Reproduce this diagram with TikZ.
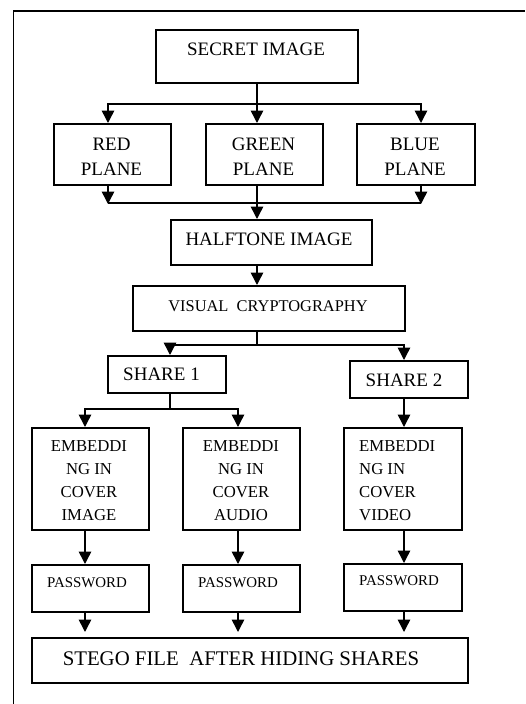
\documentclass[tikz,border=0pt]{standalone}
\usepackage{fontspec}
\setmainfont{Liberation Serif}
\usetikzlibrary{arrows.meta}
\begin{document}
\begin{tikzpicture}[x=1pt,y=-1pt,
  box/.style={draw, line width=1.5pt, inner sep=0pt, anchor=north west},
  txt/.style={anchor=base, inner sep=0pt},
  big/.style={font=\fontsize{19}{25}\selectfont},
  mid/.style={font=\fontsize{16.7}{22.7}\selectfont},
  sml/.style={font=\fontsize{14.9}{18}\selectfont},
  line/.style={line width=1.5pt},
  arr/.style={line width=1.5pt, -{Triangle[length=12.5pt,width=12.5pt]}}]
\useasboundingbox (0,0) rectangle (525,704);
% outer frame
\draw[line width=1.6pt] (13.5,704) -- (13.5,11) -- (525,11);
% column x positions
\coordinate (cL) at (108,0);
\coordinate (cM) at (257,0);
\coordinate (cR) at (421,0);
\coordinate (s1) at (170,0);
\coordinate (s2) at (404,0);
\coordinate (e1) at (85,0);
\coordinate (e2) at (238,0);
% boxes
\node[box, minimum width=202pt, minimum height=53pt] (secret) at (155,29) {};
\node[txt, big] (secretT) at (256,55) {SECRET IMAGE};
\node[box, minimum width=117pt, minimum height=61pt] (red) at (53,123) {};
\node[txt, big, align=center] (redT) at (111.5,175) {RED\\PLANE};
\node[box, minimum width=117pt, minimum height=61pt] (green) at (205,123) {};
\node[txt, big, align=center] (greenT) at (263.5,175) {GREEN\\PLANE};
\node[box, minimum width=118pt, minimum height=61pt] (blue) at (356,123) {};
\node[txt, big, align=center] (blueT) at (415,175) {BLUE\\PLANE};
\node[box, minimum width=201pt, minimum height=45pt] (half) at (170,219) {};
\node[txt, big] (halfT) at (269,245) {HALFTONE IMAGE};
\node[box, minimum width=272pt, minimum height=45pt] (vc) at (132,285) {};
\node[txt, mid, font=\fontsize{16.4}{20}\selectfont] (vcT) at (268,311) {VISUAL\ \ CRYPTOGRAPHY};
\node[box, minimum width=118pt, minimum height=37pt] (sh1) at (107,355) {};
\node[txt, big] (sh1T) at (161.5,380) {SHARE 1};
\node[box, minimum width=118pt, minimum height=37pt] (sh2) at (349,360) {};
\node[txt, big] (sh2T) at (404,386) {SHARE 2};
\node[box, minimum width=117pt, minimum height=102pt] (em1) at (31,427) {};
\node[txt, mid, align=center] (em1T) at (89,520) {EMBEDDI\\NG IN\\COVER\\IMAGE};
\node[box, minimum width=117pt, minimum height=102pt] (em2) at (182,427) {};
\node[txt, mid, align=center] (em2T) at (241,520) {EMBEDDI\\NG IN\\COVER\\AUDIO};
\node[box, minimum width=118pt, minimum height=102pt] (em3) at (343,427) {};
\node[txt, mid, align=left, anchor=base west] (em3T) at (359,520) {EMBEDDI\\NG IN\\COVER\\VIDEO};
\node[box, minimum width=117pt, minimum height=47pt] (pw1) at (31,564) {};
\node[txt, sml] (pw1T) at (87,587) {PASSWORD};
\node[box, minimum width=117pt, minimum height=47pt] (pw2) at (182,564) {};
\node[txt, sml] (pw2T) at (238,587) {PASSWORD};
\node[box, minimum width=118pt, minimum height=47pt] (pw3) at (343,563) {};
\node[txt, sml] (pw3T) at (399,585) {PASSWORD};
\node[box, minimum width=436pt, minimum height=45pt] (stego) at (31,637) {};
\node[txt, font=\fontsize{20.8}{24}\selectfont] (stegoT) at (241,665) {STEGO FILE\ \ AFTER HIDING SHARES};
% connectors
\coordinate (j1) at (257,104);
\draw[line] (secret.south -| cM) -- (j1);
\draw[arr] (j1) -| (red.north -| cL);
\draw[arr] (j1) -- (green.north -| cM);
\draw[arr] (j1) -| (blue.north -| cR);
\coordinate (j2L) at (108,203);
\coordinate (j2R) at (421,203);
\draw[line] (j2L) -- (j2R);
\draw[arr] (red.south -| cL) -- ([yshift=-1pt]j2L);
\draw[arr] (blue.south -| cR) -- ([yshift=-1pt]j2R);
\draw[arr] (green.south -| cM) -- (half.north -| cM);
\draw[arr] (half.south -| cM) -- (vc.north -| cM);
\coordinate (j3) at (257,345);
\draw[line] (vc.south -| cM) -- (j3);
\draw[line] (j3) -- (170,345);
\draw[arr] (170,345) -- (sh1.north -| s1);
\draw[arr] (j3) -| (sh2.north -| s2);
\coordinate (j4) at (170,409);
\draw[line] (sh1.south -| s1) -- (j4);
\draw[arr] (j4) -| (em1.north -| e1);
\draw[arr] (j4) -| (em2.north -| e2);
\draw[arr] (sh2.south -| s2) -- (em3.north -| s2);
\draw[arr] (em1.south -| e1) -- (pw1.north -| e1);
\draw[arr] (em2.south -| e2) -- (pw2.north -| e2);
\draw[arr] (em3.south -| s2) -- (pw3.north -| s2);
\draw[arr] (pw1.south -| e1) -- ([yshift=5pt]stego.north -| e1);
\draw[arr] (pw2.south -| e2) -- ([yshift=5pt]stego.north -| e2);
\draw[arr] (pw3.south -| s2) -- ([yshift=5pt]stego.north -| s2);
\end{tikzpicture}
\end{document}
